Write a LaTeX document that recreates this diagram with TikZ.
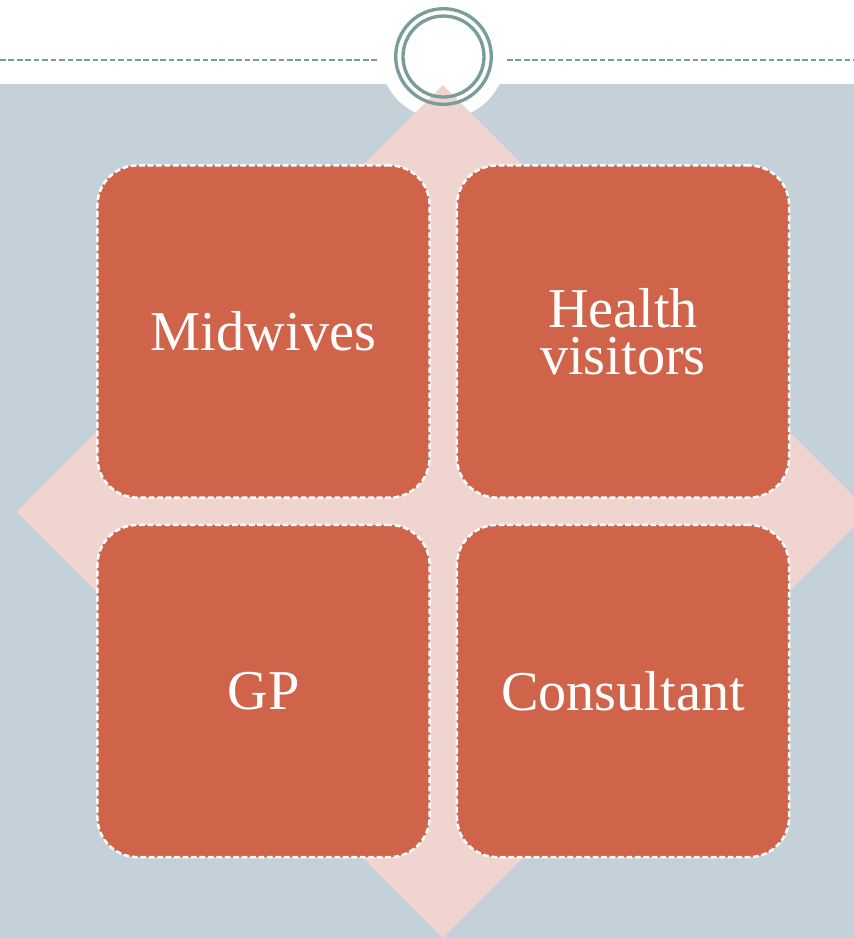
\documentclass[tikz,border=0pt]{standalone}
\usepackage{fontspec}
\setmainfont{Liberation Serif}
\usepackage{tikz}
\usetikzlibrary{shapes.geometric,calc,positioning}
\definecolor{bgblue}{HTML}{C5D1D8}
\definecolor{pinkback}{HTML}{EFD4D0}
\definecolor{rust}{HTML}{D0644A}
\definecolor{ringgreen}{HTML}{7A9C9A}

\begin{document}
\begin{tikzpicture}[x=0.01cm,y=-0.01cm]
	\tikzstyle{every node} = [rectangle, rounded corners=0.4cm, fill=rust, draw=white, line width=0.7pt, dash pattern=on 1.6pt off 0.8pt, minimum width=3.32cm, minimum height=3.32cm, text=white, align=center, font=\fontsize{16}{13.4}\selectfont]
	\useasboundingbox (0,0) rectangle (854,938);
	\fill[white] (0,0) rectangle (854,938);
	\fill[bgblue] (0,84) rectangle (854,938);
	\fill[white] (443,56) circle (63);
	\fill[pinkback] (443,85) -- (869,511.5) -- (443,938) -- (17,511.5) -- cycle;
	% ring on top
	\draw[ringgreen, line width=0.95pt] (443.5,56.5) circle (47.8);
	\draw[ringgreen, line width=0.95pt] (443.5,56.5) circle (40.5);
	\draw[ringgreen, line width=0.55pt, dash pattern=on 1.6pt off 0.8pt] (0,60) -- (379,60);
	\draw[ringgreen, line width=0.55pt, dash pattern=on 1.6pt off 0.8pt] (507,60) -- (854,60);

\node (mid) at (263.5,331.5) {Midwives};
\node (hv) at (623,331.5) {Health\\visitors};
\node (gp) at (263.5,691) {GP};
\node (con) at (623,691) {Consultant};
\end{tikzpicture}
\end{document}
